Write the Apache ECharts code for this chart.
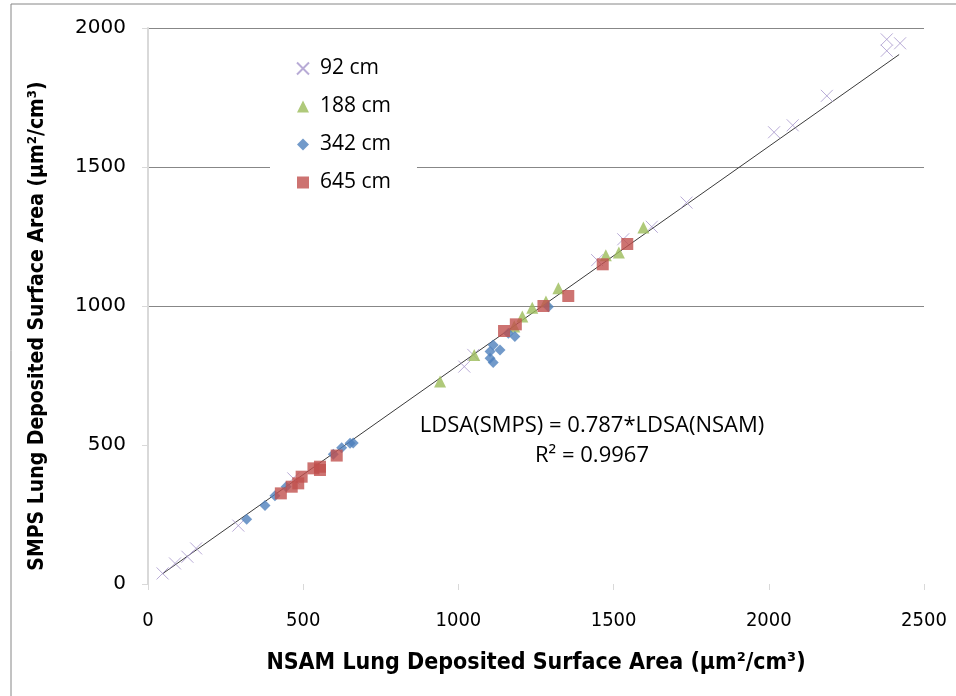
<!DOCTYPE html>
<html>
<head>
<meta charset="utf-8">
<script src="https://cdn.jsdelivr.net/npm/echarts@6/dist/echarts.min.js"></script>
<style>
  html, body { margin: 0; padding: 0; background: #fff; }
  #chart { width: 956px; height: 696px; }
</style>
</head>
<body>
<div id="chart"></div>
<script>
// NSAM vs SMPS lung deposited surface area, by distance
const seriesNames = ['92 cm', '188 cm', '342 cm', '645 cm']

const x92 = [47, 87, 127, 155, 291, 468, 1019, 1048, 1447, 1531, 1623, 1735, 2017, 2077, 2187, 2380, 2380, 2423]
const y92 = [38, 74, 98, 128, 210, 380, 782, 824, 1165, 1240, 1285, 1372, 1625, 1650, 1756, 1959, 1918, 1945]

const x188 = [941, 1051, 1180, 1206, 1238, 1282, 1322, 1475, 1517, 1596]
const y188 = [728, 824, 926, 962, 994, 1016, 1064, 1183, 1192, 1282]

const x342 = [318, 377, 409, 445, 597, 624, 651, 661, 1102, 1102, 1112, 1112, 1134, 1161, 1182, 1290]
const y342 = [233, 282, 317, 350, 467, 490, 506, 507, 836, 812, 797, 860, 842, 902, 890, 997]

const x645 = [428, 463, 484, 495, 533, 554, 554, 608, 1147, 1185, 1274, 1354, 1465, 1544]
const y645 = [326, 350, 362, 386, 416, 422, 410, 462, 910, 934, 1000, 1036, 1150, 1223]

// linear fit through origin
const slope = 0.787
const trendX = [47, 2420]
const r2 = '0.9967'

const xTicks = [0, 500, 1000, 1500, 2000, 2500]
const yTicks = [0, 500, 1000, 1500, 2000]

const pairs = (xs, ys) => xs.map((x, i) => [x, ys[i]])

const chart = echarts.init(document.getElementById('chart'))

const narrow = "'DejaVu Sans Condensed', sans-serif"

const option = {
  animation: false,
  grid: { left: 148, right: 32, top: 28, bottom: 112 },
  legend: {
    orient: 'vertical',
    left: 270,
    top: 52,
    padding: [6, 26, 6, 26],
    backgroundColor: '#fff',
    itemGap: 17,
    itemWidth: 12,
    itemHeight: 12,
    textStyle: { fontFamily: 'Open Sans', fontSize: 21, color: '#000', padding: [0, 0, 0, 6] },
    data: seriesNames
  },
  xAxis: {
    type: 'value',
    min: 0,
    max: 2500,
    interval: 500,
    name: 'NSAM Lung Deposited Surface Area (µm²/cm³)',
    nameLocation: 'middle',
    nameGap: 68,
    nameTextStyle: { fontFamily: narrow, fontWeight: 'bold', fontSize: 23, color: '#000' },
    axisLine: { show: false },
    axisTick: { show: true, length: 6, lineStyle: { color: '#d9d9d9' } },
    axisLabel: {
      margin: 27,
      fontFamily: narrow,
      fontSize: 20,
      color: '#000',
      formatter: v => (xTicks.includes(v) ? String(v) : '')
    },
    splitLine: { show: false }
  },
  yAxis: {
    type: 'value',
    min: 0,
    max: 2000,
    interval: 500,
    name: 'SMPS Lung Deposited Surface Area (µm²/cm³)',
    nameLocation: 'middle',
    nameGap: 100,
    nameTextStyle: {
      fontFamily: narrow, fontWeight: 'bold', fontSize: 21, color: '#000',
      padding: [0, 40, 0, 0]
    },
    axisLine: { show: true, lineStyle: { color: '#d9d9d9', width: 2 } },
    axisTick: { show: true, length: 6, lineStyle: { color: '#d9d9d9' } },
    axisLabel: {
      margin: 22,
      fontFamily: 'DejaVu Sans',
      fontSize: 20,
      color: '#000',
      formatter: v => (yTicks.includes(v) ? String(v) : '')
    },
    splitLine: {
      show: true,
      lineStyle: { color: ['transparent', 'transparent', '#878787', '#878787', '#878787'], width: 1 }
    }
  },
  graphic: [
    {
      type: 'rect',
      shape: { x: 11, y: 4, width: 960, height: 720 },
      style: { fill: 'none', stroke: '#868686', lineWidth: 1 },
      silent: true,
      z: -1
    },
    {
      type: 'text',
      x: 592,
      y: 411,
      style: {
        text: 'LDSA(SMPS) = ' + slope + '*LDSA(NSAM)\nR² = ' + r2,
        align: 'center',
        fontFamily: 'Open Sans',
        fontSize: 22,
        lineHeight: 30,
        fill: '#000'
      },
      z: 10
    }
  ],
  series: [
    {
      name: '92 cm',
      type: 'scatter',
      symbol: 'path://M0,0L10,10M10,0L0,10',
      symbolSize: 12,
      itemStyle: { color: 'transparent', borderColor: '#a696cc', borderWidth: 1 },
      data: pairs(x92, y92)
    },
    {
      name: '188 cm',
      type: 'scatter',
      symbol: 'triangle',
      symbolSize: 12,
      itemStyle: { color: '#9bbb59' },
      data: pairs(x188, y188)
    },
    {
      name: '342 cm',
      type: 'scatter',
      symbol: 'diamond',
      symbolSize: 11,
      itemStyle: { color: '#4f81bd' },
      data: pairs(x342, y342)
    },
    {
      name: '645 cm',
      type: 'scatter',
      symbol: 'rect',
      symbolSize: 12,
      itemStyle: { color: '#c0504d' },
      data: pairs(x645, y645)
    },
    {
      name: 'fit',
      type: 'line',
      showSymbol: false,
      silent: true,
      lineStyle: { color: '#3a3a3a', width: 1 },
      data: trendX.map(x => [x, x * slope]),
      z: 1
    }
  ]
}

chart.setOption(option)
</script>
</body>
</html>
